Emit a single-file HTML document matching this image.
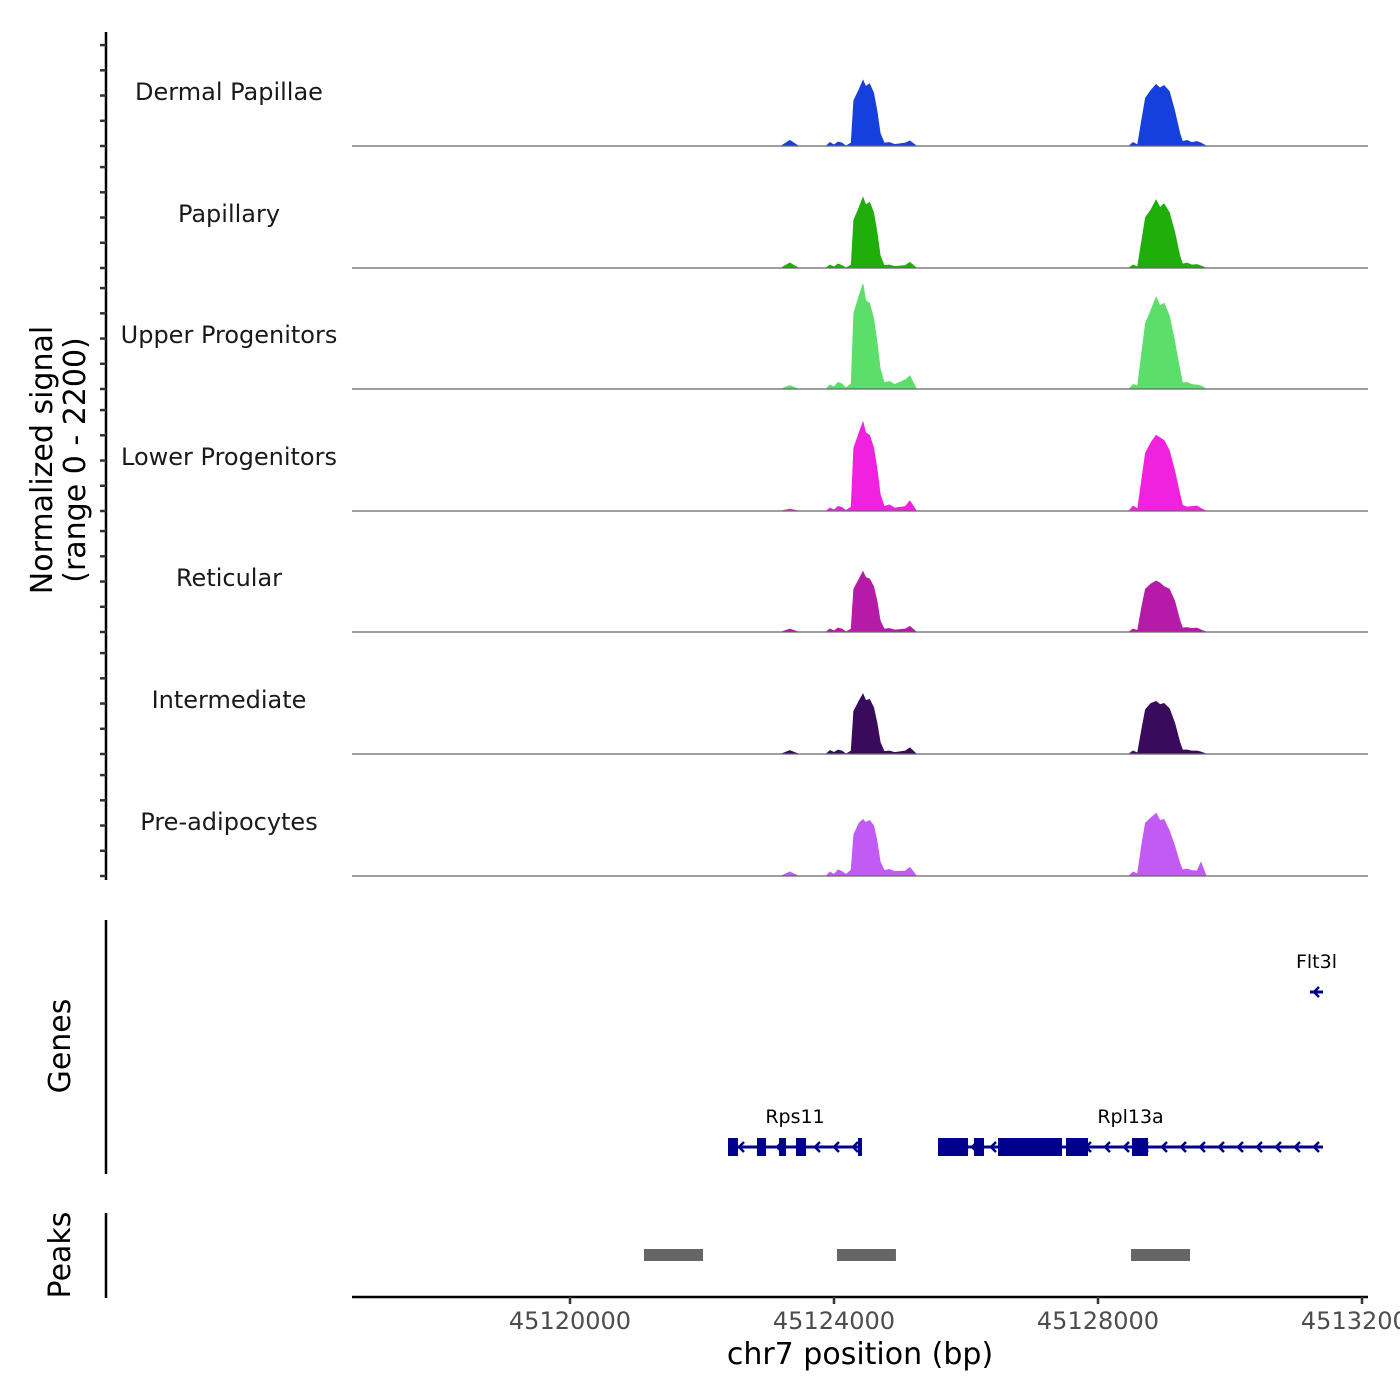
<!DOCTYPE html>
<html><head><meta charset="utf-8">
<style>
html,body{margin:0;padding:0;background:#fff;}
svg{display:block;font-family:"DejaVu Sans","Liberation Sans",sans-serif;}
</style></head>
<body>
<svg id="chart" width="1400" height="1400" viewBox="0 0 1400 1400" xmlns="http://www.w3.org/2000/svg">
  <g id="left-axes"></g>
  <g id="tracks"></g>
  <g id="genes"></g>
  <g id="peaks"></g>
  <g id="xaxis"></g>
  <text transform="translate(52,460) rotate(-90)" text-anchor="middle" font-size="30" fill="#000">Normalized signal</text>
  <text transform="translate(85,460) rotate(-90)" text-anchor="middle" font-size="30" fill="#000">(range 0 - 2200)</text>
  <text transform="translate(70,1046) rotate(-90)" text-anchor="middle" font-size="30" fill="#000">Genes</text>
  <text transform="translate(70,1255) rotate(-90)" text-anchor="middle" font-size="30" fill="#000">Peaks</text>
  <text x="860" y="1364" text-anchor="middle" font-size="30" fill="#000">chr7 position (bp)</text>
</svg>
<script>
const NS = "http://www.w3.org/2000/svg";
// ---- data ----
const trackNames = ["Dermal Papillae","Papillary","Upper Progenitors","Lower Progenitors","Reticular","Intermediate","Pre-adipocytes"];
const trackColors = ["#1640dc","#1fae0a","#5cde6b","#f022e0","#b51aa8","#3a0b5c","#c25af5"];
const positions = [45116700,45123200,45123330,45123460,45123880,45123940,45124000,45124060,45124120,45124180,45124260,45124300,45124380,45124440,45124480,45124540,45124600,45124650,45124700,45124760,45124840,45124920,45125080,45125150,45125250,45128470,45128530,45128600,45128660,45128720,45128800,45128880,45128940,45129000,45129080,45129160,45129240,45129280,45129350,45129420,45129500,45129560,45129640,45132090];
const dermalValues = [0,0,110,0,0,70,20,80,60,0,60,900,1120,1300,1180,1230,1050,700,250,60,70,30,60,100,0,0,70,20,500,950,1100,1220,1150,1200,1080,700,250,90,110,70,90,60,0,0];
const papillaryValues = [0,0,100,0,0,60,20,80,50,0,60,950,1200,1400,1250,1300,1100,720,240,50,60,30,50,110,0,0,60,20,520,1000,1150,1350,1200,1270,1100,720,240,80,100,60,70,40,0,0];
const upperValues = [0,0,70,0,0,80,40,130,100,20,100,1500,1850,2080,1750,1700,1400,950,400,120,150,90,180,260,0,0,90,60,700,1300,1550,1820,1650,1700,1450,950,380,120,130,90,80,60,0,0];
const lowerValues = [0,0,40,0,0,60,20,90,70,10,80,1250,1550,1760,1550,1500,1250,850,330,90,120,60,90,200,0,0,100,40,600,1150,1350,1500,1450,1400,1200,800,330,110,80,90,100,50,0,0];
const reticularValues = [0,0,60,0,0,60,20,80,60,0,60,850,1050,1200,1080,1050,900,620,220,60,70,40,60,110,0,0,60,30,480,850,950,1010,970,900,850,620,230,80,90,70,80,40,0,0];
const intermediateValues = [0,0,70,0,0,70,30,80,60,0,60,850,1050,1190,1060,1080,920,620,230,50,60,30,60,120,0,0,60,20,470,880,1000,1040,980,1000,900,620,230,80,80,60,60,40,0,0];
const preadipValues = [0,0,80,0,0,80,30,120,90,30,120,820,1050,1120,1060,1100,1000,700,280,110,130,90,100,170,0,0,80,40,600,1050,1150,1240,1100,1120,900,600,250,120,140,110,100,270,0,0];
const trackValues = [dermalValues,papillaryValues,upperValues,lowerValues,reticularValues,intermediateValues,preadipValues];
const xTicks = [45120000,45124000,45128000,45132000];
const xTickLabels = ["45120000","45124000","45128000","45132000"];
const yTickValues = [0,500,1000,1500,2000];
const geneNames = ["Rps11","Rpl13a","Flt3l"];
const geneSpans = [[45122394,45124424],[45125576,45131409],[45131212,45131409]];
const geneExons = [
  [[45122394,45122545],[45122833,45122970],[45123167,45123273],[45123424,45123576],[45124364,45124424]],
  [[45125576,45126030],[45126121,45126273],[45126485,45127455],[45127515,45127849],[45128515,45128758]],
  []
];
const peakRegions = [[45121121,45122015],[45124045,45124939],[45128500,45129394]];

// ---- scales ----
const X0 = 352, X1 = 1368, BP0 = 45116697, PXPERBP = 0.066;
const xs = bp => X0 + (bp - BP0) * PXPERBP;
const baselines = [146,268,389,511,632,754,876];
const ys = (v, base) => base - v / 2200 * 111;

function el(tag, attrs, parent){const e=document.createElementNS(NS,tag);for(const k in attrs)e.setAttribute(k,attrs[k]);parent.appendChild(e);return e;}

// left axis
const la = document.getElementById('left-axes');
const ax1 = el('line',{x1:106,y1:32,x2:106,y2:880,stroke:'#000','stroke-width':2.5},la);


baselines.forEach(b=>{yTickValues.forEach(v=>{
  const t = el('line',{x1:100,y1:ys(v,b),x2:106,y2:ys(v,b),stroke:'#333','stroke-width':2.5},la);
  
  
});});
const ax2 = el('line',{x1:106,y1:920,x2:106,y2:1174,stroke:'#000','stroke-width':2.5},la);


const ax3 = el('line',{x1:106,y1:1213,x2:106,y2:1298,stroke:'#000','stroke-width':2.5},la);



// tracks
const tg = document.getElementById('tracks');
trackNames.forEach((name,i)=>{
  const b = baselines[i];
  const g = el('g',{},tg);
  
  
  let d = 'M'+xs(positions[0])+','+b;
  positions.forEach((p,j)=>{ d += ' L'+xs(p).toFixed(1)+','+ys(trackValues[i][j],b).toFixed(1); });
  d += ' L'+xs(positions[positions.length-1])+','+b+' Z';
  const a = el('path',{d:d,fill:trackColors[i],stroke:trackColors[i],'stroke-width':0.8},g);
  
  
  const bl = el('line',{x1:X0,y1:b,x2:X1,y2:b,stroke:'#666','stroke-width':1.2},g);
  
  
  const lb = el('text',{x:229,y:b-46,'text-anchor':'middle','font-size':24,fill:'#1a1a1a'},g);
  lb.textContent = name;
  
  
});

// genes
const gg = document.getElementById('genes');
const geneY = [1147,1147,992];
geneNames.forEach((n,i)=>{
  const g = el('g',{},gg);
  
  
  const y = geneY[i], s = xs(geneSpans[i][0]), e = xs(geneSpans[i][1]);
  const ln = el('line',{x1:s,y1:y,x2:e,y2:y,stroke:'#00008b','stroke-width':3},g);
  
  
  const step = 19;
  for(let x=e-8; x>s+4; x-=step){
    const c = el('path',{d:`M${x+4},${y-5} L${x-1},${y} L${x+4},${y+5}`,fill:'none',stroke:'#00008b','stroke-width':2.5},g);
    
    
  }
  geneExons[i].forEach(ex=>{
    const r = el('rect',{x:xs(ex[0]),y:y-9,width:xs(ex[1])-xs(ex[0]),height:18,fill:'#00008b'},g);
    
    
  });
  const lb = el('text',{x:(s+e)/2,y:y-24,'text-anchor':'middle','font-size':19,fill:'#000'},g);
  lb.textContent = n;
  
  
});

// peaks
const pg = document.getElementById('peaks');
peakRegions.forEach(p=>{
  const r = el('rect',{x:xs(p[0]),y:1249,width:xs(p[1])-xs(p[0]),height:12,fill:'#666'},pg);
  
  
});

// x axis
const xg = document.getElementById('xaxis');
const xl = el('line',{x1:X0,y1:1297,x2:X1,y2:1297,stroke:'#000','stroke-width':2.5},xg);


xTicks.forEach((t,i)=>{
  const tk = el('line',{x1:xs(t),y1:1297,x2:xs(t),y2:1304,stroke:'#333','stroke-width':2.5},xg);
  
  
  const lb = el('text',{x:xs(t),y:1329,'text-anchor':'middle','font-size':24,fill:'#4d4d4d'},xg);
  lb.textContent = xTickLabels[i];
  
  
});
</script>
</body></html>
